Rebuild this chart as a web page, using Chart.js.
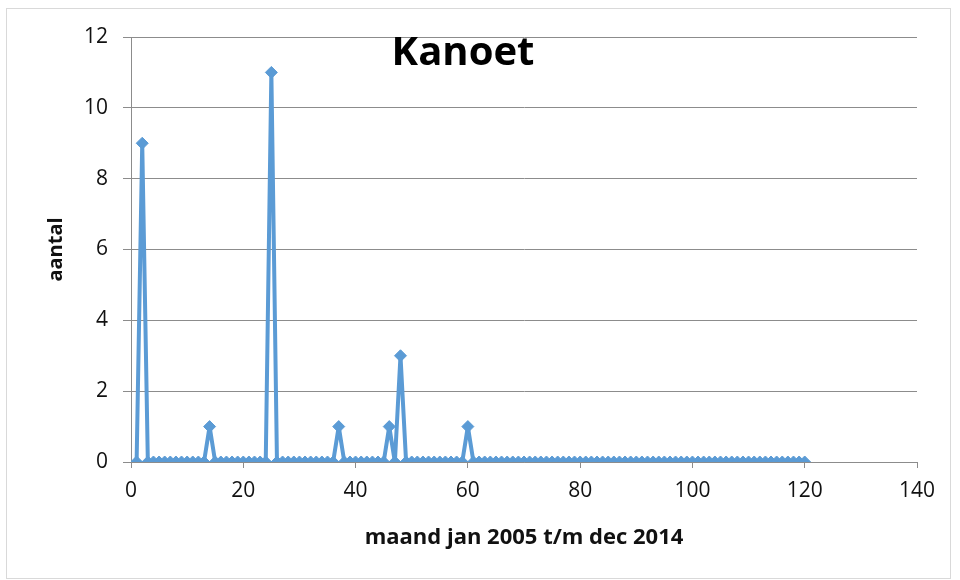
<!DOCTYPE html>
<html>
<head>
<meta charset="utf-8">
<script src="https://cdn.jsdelivr.net/npm/chart.js@4.4.1/dist/chart.umd.min.js"></script>
<style>
  html, body { margin: 0; padding: 0; background: #fff; }
  #wrap { position: relative; width: 960px; height: 580px; }
  #frame { position: absolute; left: 6px; top: 8px; width: 943px; height: 569px; border: 1px solid #d9d9d9; }
  canvas { position: absolute; left: 0; top: 0; }
</style>
</head>
<body>
<div id="wrap">
  <div id="frame"></div>
  <canvas id="chart" width="960" height="580"></canvas>
</div>
<script>
// months jan 2005 .. dec 2014
const months = [
  1, 2, 3, 4, 5, 6, 7, 8, 9, 10, 11, 12, 13, 14, 15, 16, 17, 18, 19, 20,
  21, 22, 23, 24, 25, 26, 27, 28, 29, 30, 31, 32, 33, 34, 35, 36, 37, 38, 39, 40,
  41, 42, 43, 44, 45, 46, 47, 48, 49, 50, 51, 52, 53, 54, 55, 56, 57, 58, 59, 60,
  61, 62, 63, 64, 65, 66, 67, 68, 69, 70, 71, 72, 73, 74, 75, 76, 77, 78, 79, 80,
  81, 82, 83, 84, 85, 86, 87, 88, 89, 90, 91, 92, 93, 94, 95, 96, 97, 98, 99, 100,
  101, 102, 103, 104, 105, 106, 107, 108, 109, 110, 111, 112, 113, 114, 115, 116, 117, 118, 119, 120
];
// aantal per maand
const counts = [
  0, 9, 0, 0, 0, 0, 0, 0, 0, 0, 0, 0, 0, 1, 0, 0, 0, 0, 0, 0,
  0, 0, 0, 0, 11, 0, 0, 0, 0, 0, 0, 0, 0, 0, 0, 0, 1, 0, 0, 0,
  0, 0, 0, 0, 0, 1, 0, 3, 0, 0, 0, 0, 0, 0, 0, 0, 0, 0, 0, 1,
  0, 0, 0, 0, 0, 0, 0, 0, 0, 0, 0, 0, 0, 0, 0, 0, 0, 0, 0, 0,
  0, 0, 0, 0, 0, 0, 0, 0, 0, 0, 0, 0, 0, 0, 0, 0, 0, 0, 0, 0,
  0, 0, 0, 0, 0, 0, 0, 0, 0, 0, 0, 0, 0, 0, 0, 0, 0, 0, 0, 0
];
const chartTitle = 'Kanoet';
const xTitle = 'maand jan 2005 t/m dec 2014';
const yTitle = 'aantal';

const blue = '#5b9bd5';
const gridGray = '#8c8c8c';
const fontFamily = '"Open Sans", Lato, sans-serif';

// title sits inside the plot area, like the original
const titlePlugin = {
  id: 'innerTitle',
  afterDraw(chart) {
    const ctx = chart.ctx;
    ctx.save();
    ctx.font = 'bold 40px ' + fontFamily;
    ctx.fillStyle = '#000';
    ctx.textAlign = 'center';
    ctx.textBaseline = 'alphabetic';
    ctx.fillText(chartTitle, 463, 65);
    ctx.restore();
  }
};

new Chart(document.getElementById('chart'), {
  type: 'line',
  data: {
    datasets: [{
      data: months.map((m, i) => ({ x: m, y: counts[i] })),
      borderColor: blue,
      backgroundColor: blue,
      borderWidth: 4,
      borderJoinStyle: 'round',
      pointStyle: 'rectRot',
      pointRadius: 6,
      pointBorderWidth: 1,
      tension: 0
    }]
  },
  options: {
    responsive: false,
    animation: false,
    layout: { padding: { top: 37, right: 43, left: 0, bottom: 0 } },
    plugins: {
      legend: { display: false },
      tooltip: { enabled: false }
    },
    scales: {
      x: {
        type: 'linear',
        min: 0,
        max: 140,
        afterFit: s => { s.height = 118; },
        ticks: { stepSize: 20, color: '#111', font: { family: fontFamily, size: 21 }, padding: 10, maxRotation: 0 },
        grid: { drawOnChartArea: false, drawTicks: true, tickLength: 6, color: gridGray },
        border: { color: gridGray, width: 1 },
        title: { display: true, text: xTitle, color: '#111', font: { family: fontFamily, size: 22, weight: 'bold' }, padding: { top: 0, bottom: 29 } }
      },
      y: {
        min: 0,
        max: 12,
        afterFit: s => { s.width = 131; },
        ticks: { stepSize: 2, color: '#111', font: { family: fontFamily, size: 21 }, padding: 15 },
        grid: { drawTicks: true, tickLength: 8, color: gridGray },
        border: { color: gridGray, width: 1 },
        title: { display: true, text: yTitle, color: '#111', font: { family: fontFamily, size: 20, weight: 'bold' }, padding: { top: 44, bottom: 0 } }
      }
    }
  },
  plugins: [titlePlugin]
});
</script>
</body>
</html>
